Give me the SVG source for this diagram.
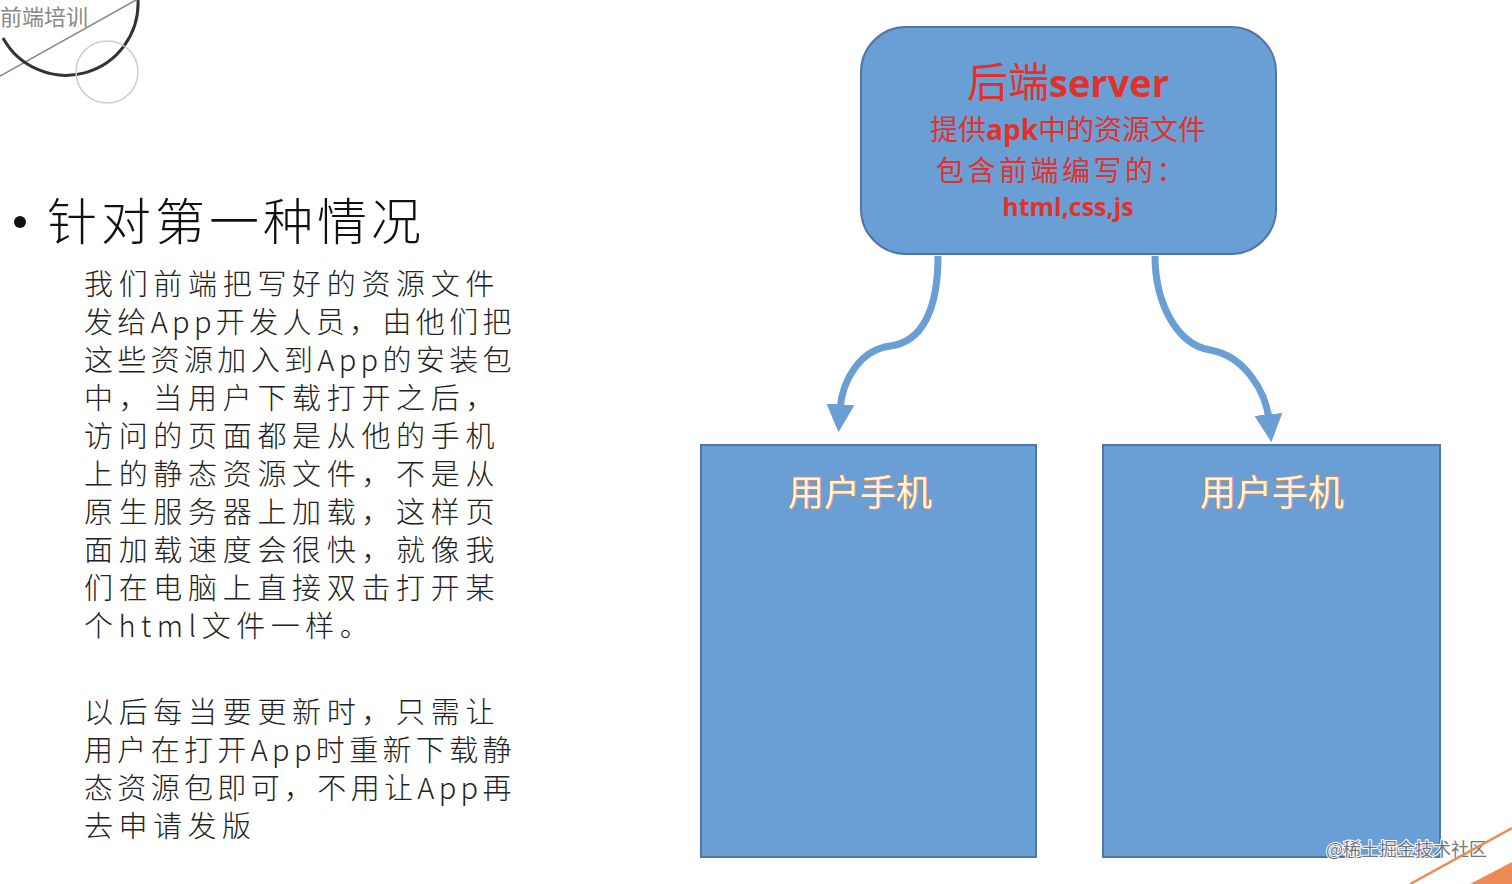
<svg xmlns="http://www.w3.org/2000/svg" width="1512" height="884" viewBox="0 0 1512 884">
<defs>
<style>
.body{font-family:"Noto Sans CJK SC","Liberation Serif",serif;font-size:29px;fill:#222;letter-spacing:5.5px;font-weight:300}
.red{font-family:"Noto Sans CJK SC","Liberation Sans",sans-serif;fill:#e0322a;text-anchor:middle}
.b{font-family:"Open Sans","Noto Sans CJK SC",sans-serif;font-weight:bold}
.box{fill:#6a9fd6;stroke:#4f76a6;stroke-width:2}
.phone{font-family:"Noto Sans CJK SC",sans-serif;font-size:36px;fill:#fff4e4;stroke:#f08a32;stroke-width:1.2;text-anchor:middle;paint-order:stroke}
.arr{fill:none;stroke:#6a9fd6;stroke-width:7}
</style>
<marker id="ah" viewBox="0 0 10 10" refX="2" refY="5" markerWidth="4" markerHeight="4" orient="auto" markerUnits="strokeWidth">
<path d="M0,0 L10,5 L0,10 Z" fill="#6a9fd6"/>
</marker>
</defs>
<rect width="1512" height="884" fill="#fff"/>
<g id="logo">
<text x="0" y="25" font-family="Noto Sans CJK SC,sans-serif" font-size="22" fill="#888">前端培训</text>
<line x1="0" y1="76" x2="136" y2="0" stroke="#888" stroke-width="1.5"/>
<path d="M3,38 A72,72 0 0 0 138,0" fill="none" stroke="#333" stroke-width="3"/>
<circle cx="107" cy="72" r="31" fill="none" stroke="#ccc" stroke-width="1.5"/>
</g>
<g id="title">
<circle cx="20" cy="222" r="6" fill="#111"/>
<text x="47" y="240" font-family="Noto Sans CJK SC,sans-serif" font-size="50" font-weight="300" letter-spacing="4" fill="#111">针对第一种情况</text>
</g>
<g id="bodytext" class="body">
<text x="84" y="295" textLength="416" lengthAdjust="spacing">我们前端把写好的资源文件</text>
<text x="84" y="333" textLength="433" lengthAdjust="spacing">发给App开发人员，由他们把</text>
<text x="84" y="371" textLength="433" lengthAdjust="spacing">这些资源加入到App的安装包</text>
<text x="84" y="409" textLength="416" lengthAdjust="spacing">中，当用户下载打开之后，</text>
<text x="84" y="447" textLength="416" lengthAdjust="spacing">访问的页面都是从他的手机</text>
<text x="84" y="485" textLength="416" lengthAdjust="spacing">上的静态资源文件，不是从</text>
<text x="84" y="523" textLength="416" lengthAdjust="spacing">原生服务器上加载，这样页</text>
<text x="84" y="561" textLength="416" lengthAdjust="spacing">面加载速度会很快，就像我</text>
<text x="84" y="599" textLength="416" lengthAdjust="spacing">们在电脑上直接双击打开某</text>
<text x="84" y="637">个html文件一样。</text>
<text x="84" y="723" textLength="416" lengthAdjust="spacing">以后每当要更新时，只需让</text>
<text x="84" y="761" textLength="433" lengthAdjust="spacing">用户在打开App时重新下载静</text>
<text x="84" y="799" textLength="433" lengthAdjust="spacing">态资源包即可，不用让App再</text>
<text x="84" y="837">去申请发版</text>
</g>
<g id="server">
<rect class="box" x="861" y="27" width="415" height="227" rx="45"/>
<text class="red" x="1068" y="97" font-size="41">后端<tspan class="b" font-size="38">server</tspan></text>
<text class="red" x="1068" y="140" font-size="28">提供<tspan class="b">apk</tspan>中的资源文件</text>
<text class="red" x="1062" y="181" font-size="28" letter-spacing="3.5">包含前端编写的：</text>
<text class="red b" x="1068" y="216" font-size="25">html,css,js</text>
</g>
<g id="phone1">
<rect class="box" x="701" y="445" width="335" height="412" stroke="#4a6a90"/>
<text class="phone" x="860" y="506">用户手机</text>
</g>
<g id="phone2">
<rect class="box" x="1103" y="445" width="337" height="412" stroke="#4a6a90"/>
<text class="phone" x="1272" y="506">用户手机</text>
</g>
<g id="connectors">
<path class="arr" marker-end="url(#ah)" d="M938,256 C938,310 922,342 890,346 C860,350 842,380 840,410"/>
<path class="arr" marker-end="url(#ah)" d="M1155,256 C1155,300 1175,344 1210,350 C1245,356 1266,392 1269,420"/>
</g>
<g id="watermark">
<text x="1326" y="856" font-family="Noto Sans CJK SC,sans-serif" font-size="18" fill="#777" stroke="#fff" stroke-width="2" paint-order="stroke">@稀土掘金技术社区</text>
</g>
<g id="deco">
<line x1="1410" y1="884" x2="1512" y2="828" stroke="#ee8a55" stroke-width="2.5"/>
<path d="M1470,884 L1512,862 L1512,884 Z" fill="#ee8a55"/>
</g>
</svg>
